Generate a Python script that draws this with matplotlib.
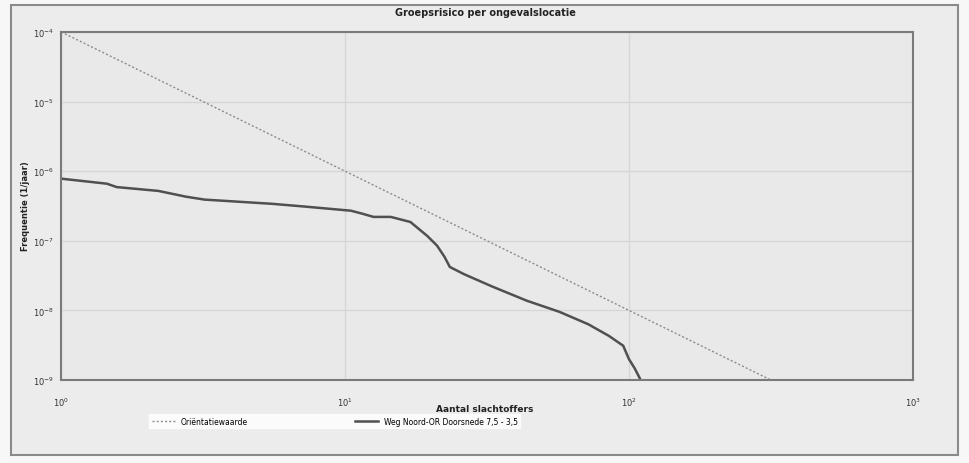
import matplotlib
matplotlib.use('Agg')
import matplotlib.pyplot as plt
from matplotlib.patches import Rectangle

# groepsrisico curve
n_slachtoffers = [1, 1.45, 1.57, 2.2, 2.75, 3.2, 5.5, 7.2, 10.5, 11.5, 12.6, 14.5, 17,
                  19.5, 21.1, 22.4, 23.4, 26.3, 33, 43.6, 57, 72, 85, 95.5, 100, 105, 110]
frequentie = [7.8e-7, 6.6e-7, 5.9e-7, 5.2e-7, 4.3e-7, 3.9e-7, 3.4e-7, 3.1e-7, 2.7e-7,
              2.45e-7, 2.2e-7, 2.2e-7, 1.86e-7, 1.17e-7, 8.5e-8, 5.9e-8, 4.2e-8, 3.3e-8,
              2.2e-8, 1.38e-8, 9.5e-9, 6.3e-9, 4.3e-9, 3.1e-9, 2.0e-9, 1.45e-9, 1.0e-9]

# orientatiewaarde
n_orientatie = [1, 10, 100, 316]
f_orientatie = [1e-4, 1e-6, 1e-8, 1e-9]

x_ticks = [1, 10, 100, 1000]
x_ticklabels = ['$10^0$', '$10^1$', '$10^2$', '$10^3$']
y_ticks = [1e-9, 1e-8, 1e-7, 1e-6, 1e-5, 1e-4]
y_ticklabels = ['$10^{-9}$', '$10^{-8}$', '$10^{-7}$', '$10^{-6}$', '$10^{-5}$', '$10^{-4}$']

titel = 'Groepsrisico per ongevalslocatie'
label_orientatie = 'Oriëntatiewaarde'
label_curve = 'Weg Noord-OR Doorsnede 7,5 - 3,5'

fig = plt.figure(figsize=(9.7, 4.64), dpi=100, facecolor='#f7f7f7')
fig.patches.append(Rectangle((0.011, 0.018), 0.977, 0.968, transform=fig.transFigure,
                             facecolor='#ececec', edgecolor='#8a8a8a', lw=1.5, zorder=-1))

ax = fig.add_axes([0.063, 0.179, 0.878, 0.750])
ax.set_zorder(2)
ax.set_facecolor('#e9e9e9')
ax.set_xscale('log')
ax.set_yscale('log')
ax.set_xlim(1, 1000)
ax.set_ylim(1e-9, 1e-4)

ax.plot(n_orientatie, f_orientatie, color='#8c8c8c', lw=1, ls=(0, (1.5, 1.5)),
        label=label_orientatie)
ax.plot(n_slachtoffers, frequentie, color='#505050', lw=1.8, label=label_curve)

ax.set_xticks(x_ticks)
ax.set_xticklabels(x_ticklabels)
ax.set_yticks(y_ticks)
ax.set_yticklabels(y_ticklabels)
ax.minorticks_off()
ax.tick_params(length=0, labelsize=6, colors='#333333', pad=5)
ax.tick_params(axis='x', pad=11)
ax.grid(True, color='#d6d6d6', lw=1)
for s in ax.spines.values():
    s.set_color('#7a7a7a')
    s.set_linewidth(1.5)

fig.text(0.5, 0.972, titel, ha='center', va='center', fontsize=7, fontweight='bold',
         color='#222222')
fig.text(0.5, 0.118, 'Aantal slachtoffers', ha='center', va='center', fontsize=6.5,
         fontweight='bold', color='#222222')
fig.text(0.026, 0.555, 'Frequentie (1/jaar)', ha='center', va='center', rotation=90,
         fontsize=6, fontweight='bold', color='#222222')

leg = fig.legend(loc='center left', bbox_to_anchor=(0.15, 0.09), ncol=2, fontsize=5.5,
                 frameon=True, fancybox=False, handlelength=3, columnspacing=14,
                 borderpad=0.3)
leg.get_frame().set_facecolor('white')
leg.get_frame().set_edgecolor('white')

fig.savefig('out.png', dpi=100, facecolor=fig.get_facecolor())
